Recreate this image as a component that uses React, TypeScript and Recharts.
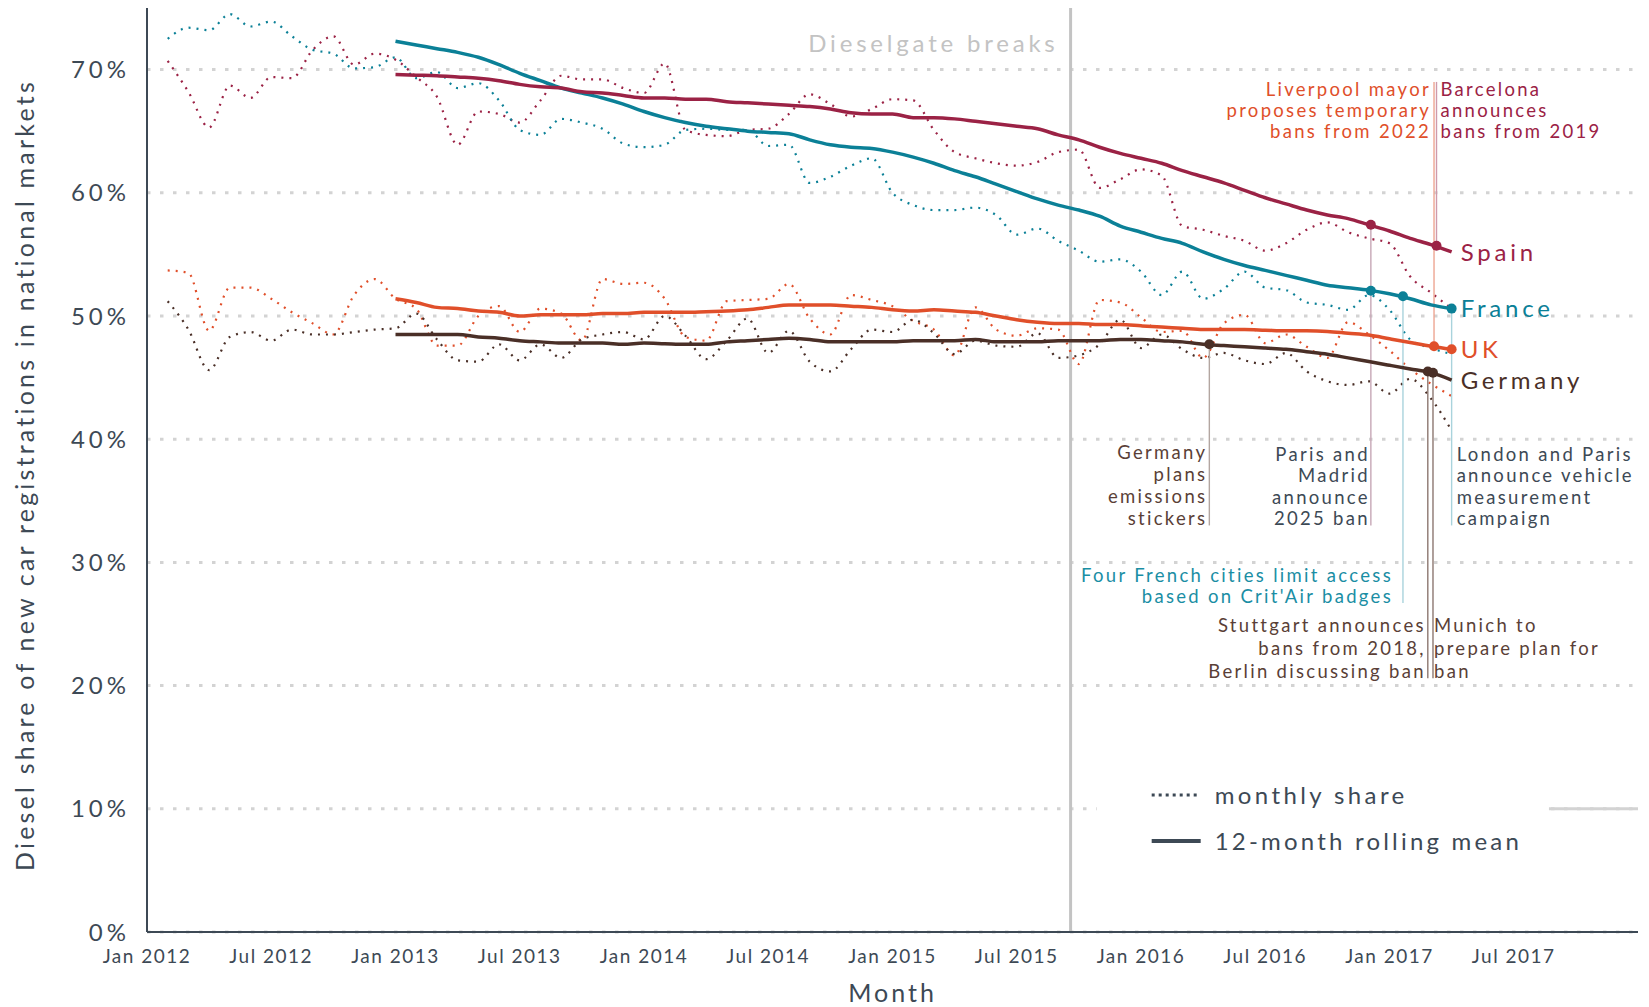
import React from "react";
import {
  ComposedChart,
  Line,
  XAxis,
  YAxis,
  CartesianGrid,
  ReferenceLine,
  ReferenceDot,
  ReferenceArea,
  LabelList,
} from "recharts";

/* ─── colours ─── */
const SPAIN = "#9b2245";
const FRANCE = "#0b8097";
const UK = "#e04f2a";
const GERMANY = "#4a2f27";
const SLATE = "#3d4955";
const BROWN_TEXT = "#5a3f37";
const GRID = "#d3d3d3";
const DIESELGATE = "#c3c3c3";

/* ─── axes ─── */
const tickMonths = [0, 6, 12, 18, 24, 30, 36, 42, 48, 54, 60, 66];
const tickLabels = [
  "Jan 2012", "Jul 2012", "Jan 2013", "Jul 2013", "Jan 2014", "Jul 2014",
  "Jan 2015", "Jul 2015", "Jan 2016", "Jul 2016", "Jan 2017", "Jul 2017",
];
const yTicks = [0, 10, 20, 30, 40, 50, 60, 70];

/* ─── monthly share, Feb 2012 (m1) .. Apr 2017 (m63) ─── */
const spainMonthly = [
  70.7, 68.2, 65.3, 68.7, 67.7, 69.4, 69.3, 71.6, 72.7, 70.4,
  71.3, 70.8, 69.4, 67.8, 63.9, 66.6, 66.4, 65.7, 67.5, 69.5,
  69.2, 69.2, 68.5, 68.1, 70.5, 65.1, 64.7, 64.6, 65.1, 65.2,
  66.4, 68.0, 67.2, 66.2, 66.8, 67.6, 67.5, 65.1, 63.3, 62.8,
  62.4, 62.2, 62.5, 63.3, 63.5, 60.4, 61.1, 61.9, 61.4, 57.3,
  57.0, 56.5, 56.1, 55.3, 55.9, 57.0, 57.6, 56.8, 56.3, 55.9,
  53.2, 51.9, 50.6,
];
const franceMonthly = [
  72.5, 73.4, 73.2, 74.5, 73.5, 73.9, 72.7, 71.6, 71.3, 70.1,
  70.2, 71.0, 69.3, 69.8, 68.5, 68.9, 67.5, 65.1, 64.7, 66.0,
  65.7, 65.2, 64.0, 63.7, 63.9, 65.1, 65.2, 65.1, 65.1, 63.8,
  63.9, 60.8, 61.3, 62.2, 62.8, 60.0, 59.0, 58.6, 58.6, 58.8,
  58.2, 56.6, 57.1, 56.1, 55.3, 54.4, 54.6, 53.6, 51.7, 53.6,
  51.4, 52.2, 53.6, 52.3, 52.1, 51.1, 50.9, 50.5, 51.7, 50.5,
  48.1, 47.4, 46.9,
];
const ukMonthly = [
  53.7, 53.5, 48.8, 52.3, 52.3, 51.4, 50.3, 49.4, 48.5, 51.7,
  53.0, 51.4, 50.6, 47.6, 47.6, 50.0, 50.8, 48.7, 50.6, 50.2,
  48.0, 53.0, 52.6, 52.7, 51.4, 48.3, 48.0, 51.2, 51.3, 51.4,
  52.6, 49.8, 48.5, 51.7, 51.3, 50.8, 49.6, 48.9, 46.8, 50.7,
  48.9, 48.4, 49.0, 48.9, 46.1, 51.3, 51.1, 49.9, 48.7, 48.8,
  46.6, 49.4, 50.1, 47.8, 48.5, 47.5, 46.6, 49.5, 48.5, 47.2,
  45.7, 44.5, 43.5,
];
const germanyMonthly = [
  51.2, 48.9, 45.6, 48.3, 48.7, 48.0, 48.9, 48.5, 48.5, 48.7,
  48.9, 49.0, 50.2, 48.1, 46.4, 46.3, 47.7, 46.4, 47.7, 46.6,
  48.1, 48.5, 48.7, 48.1, 50.0, 48.4, 46.5, 48.0, 49.8, 47.0,
  48.8, 46.3, 45.5, 47.3, 48.9, 48.7, 49.7, 48.6, 46.9, 48.0,
  47.6, 47.5, 48.6, 46.6, 46.8, 47.7, 49.7, 47.4, 48.5, 47.3,
  46.6, 47.0, 46.4, 46.1, 47.0, 45.5, 44.7, 44.4, 44.7, 43.7,
  44.9, 43.3, 40.7,
];

/* ─── 12-month rolling mean, m12 .. m63 ─── */
const spainRolling = [
  69.6, 69.55, 69.5, 69.4, 69.3, 69.1, 68.8, 68.6, 68.5, 68.2,
  68.1, 67.9, 67.7, 67.7, 67.6, 67.6, 67.4, 67.3, 67.2, 67.1,
  67.0, 66.8, 66.5, 66.4, 66.4, 66.1, 66.1, 66.0, 65.8, 65.6,
  65.4, 65.2, 64.7, 64.3, 63.7, 63.2, 62.8, 62.4, 61.8, 61.3,
  60.8, 60.2, 59.6, 59.1, 58.6, 58.2, 57.9, 57.4, 56.9, 56.3,
  55.8, 55.2,
];
const franceRolling = [
  72.3, 72.0, 71.7, 71.4, 71.0, 70.4, 69.7, 69.1, 68.5, 68.1,
  67.7, 67.2, 66.6, 66.1, 65.7, 65.4, 65.2, 65.0, 64.9, 64.8,
  64.3, 63.9, 63.7, 63.6, 63.3, 62.9, 62.4, 61.8, 61.3, 60.7,
  60.1, 59.5, 59.0, 58.6, 58.1, 57.3, 56.8, 56.3, 55.9, 55.2,
  54.6, 54.1, 53.7, 53.3, 52.9, 52.5, 52.3, 52.1, 51.8, 51.4,
  50.9, 50.6,
];
const ukRolling = [
  51.4, 51.1, 50.7, 50.6, 50.4, 50.3, 50.0, 50.1, 50.1, 50.1,
  50.2, 50.2, 50.3, 50.3, 50.3, 50.35, 50.4, 50.5, 50.7, 50.9,
  50.9, 50.9, 50.8, 50.7, 50.5, 50.4, 50.5, 50.4, 50.3, 50.0,
  49.7, 49.5, 49.4, 49.4, 49.3, 49.3, 49.2, 49.1, 49.0, 48.9,
  48.9, 48.9, 48.85, 48.8, 48.8, 48.75, 48.6, 48.45, 48.15, 47.85,
  47.55, 47.3,
];
const germanyRolling = [
  48.5, 48.5, 48.5, 48.5, 48.3, 48.2, 48.0, 47.9, 47.8, 47.8,
  47.8, 47.7, 47.8, 47.75, 47.7, 47.7, 47.9, 48.0, 48.1, 48.2,
  48.1, 47.9, 47.9, 47.9, 47.9, 48.0, 48.0, 48.0, 48.1, 47.9,
  47.9, 47.9, 48.0, 48.0, 48.0, 48.1, 48.1, 48.0, 47.9, 47.7,
  47.6, 47.5, 47.4, 47.3, 47.1, 46.9, 46.6, 46.3, 46.0, 45.7,
  45.4, 44.8,
];

/* ─── event markers on the rolling means ─── */
const markers = [
  { x: 51.3, y: 47.7, color: GERMANY },
  { x: 59.1, y: 57.4, color: SPAIN },
  { x: 59.1, y: 52.05, color: FRANCE },
  { x: 60.65, y: 51.6, color: FRANCE },
  { x: 61.85, y: 45.5, color: GERMANY },
  { x: 62.1, y: 45.4, color: GERMANY },
  { x: 62.15, y: 47.55, color: UK },
  { x: 62.27, y: 55.7, color: SPAIN },
  { x: 63, y: 50.6, color: FRANCE },
  { x: 63, y: 47.3, color: UK },
];

/* ─── event notes: leader line from marker to text ─── */
type Note = {
  x: number;
  from: number;
  to: number;
  side: "left" | "right";
  above?: boolean;
  gap: number;
  lh: number;
  color: string;
  stroke: string;
  lines: string[];
};
const notes: Note[] = [
  { x: 51.3, from: 47.7, to: 33.0, side: "left", gap: 4, lh: 22, color: BROWN_TEXT, stroke: "#b3a6a1",
    lines: ["Germany", "plans", "emissions", "stickers"] },
  { x: 59.1, from: 57.4, to: 33.0, side: "left", gap: 3, lh: 21.5, color: SLATE, stroke: "#c6a7b6",
    lines: ["Paris and", "Madrid", "announce", "2025 ban"] },
  { x: 60.65, from: 51.6, to: 26.7, side: "left", gap: 12, lh: 21, color: "#1a8ea4", stroke: "#a9d3dc",
    lines: ["Four French cities limit access", "based on Crit'Air badges"] },
  { x: 61.85, from: 45.5, to: 20.6, side: "left", gap: 4, lh: 23, color: BROWN_TEXT, stroke: "#8c7770",
    lines: ["Stuttgart announces", "bans from 2018,", "Berlin discussing ban"] },
  { x: 62.1, from: 45.4, to: 20.6, side: "right", gap: 1, lh: 23, color: BROWN_TEXT, stroke: "#8c7770",
    lines: ["Munich to", "prepare plan for", "ban"] },
  { x: 62.15, from: 47.55, to: 69.0, side: "left", above: true, gap: 5, lh: 21, color: UK, stroke: "#eda592",
    lines: ["Liverpool mayor", "proposes temporary", "bans from 2022"] },
  { x: 62.27, from: 55.7, to: 69.0, side: "right", above: true, gap: 4, lh: 21, color: SPAIN, stroke: "#cf9aab",
    lines: ["Barcelona", "announces", "bans from 2019"] },
  { x: 63, from: 50.6, to: 33.0, side: "right", gap: 5, lh: 21.5, color: SLATE, stroke: "#a9d3dc",
    lines: ["London and Paris", "announce vehicle", "measurement", "campaign"] },
];

const data = spainMonthly.map((_, i) => {
  const m = i + 1;
  const r = m - 12;
  return {
    m,
    spainM: spainMonthly[i],
    franceM: franceMonthly[i],
    ukM: ukMonthly[i],
    germanyM: germanyMonthly[i],
    spainR: r >= 0 ? spainRolling[r] : null,
    franceR: r >= 0 ? franceRolling[r] : null,
    ukR: r >= 0 ? ukRolling[r] : null,
    germanyR: r >= 0 ? germanyRolling[r] : null,
  };
});
const lastIndex = data.length - 1;

const noteFont = { fontSize: 18.5, letterSpacing: 2.3 };

function noteShape(note: Note) {
  return (p: any) => {
    const top = Math.min(p.y1, p.y2);
    const bottom = Math.max(p.y1, p.y2);
    const n = note.lines.length;
    const firstBase = note.above ? top + 14 : bottom - (n - 1) * note.lh;
    const tx = note.side === "left" ? p.x1 - note.gap + 2 : p.x1 + note.gap;
    return (
      <g>
        <line x1={p.x1} y1={p.y1} x2={p.x2} y2={p.y2} stroke={note.stroke} strokeWidth={1.4} />
        {note.lines.map((t, i) => (
          <text
            key={i}
            x={tx}
            y={firstBase + i * note.lh}
            textAnchor={note.side === "left" ? "end" : "start"}
            fill={note.color}
            {...noteFont}
          >
            {t}
          </text>
        ))}
      </g>
    );
  };
}

function endLabel(name: string, color: string) {
  return (p: any) => {
    if (p.index !== lastIndex) return null;
    const x = p.viewBox?.x ?? p.x;
    const y = p.viewBox?.y ?? p.y;
    if (x == null || y == null) return null;
    return (
      <text x={x + 9} y={y} dy="0.36em" fill={color} fontSize={24} letterSpacing={3.8}>
        {name}
      </text>
    );
  };
}

export default function App() {
  return (
    <div
      style={{
        position: "absolute",
        left: 0,
        top: 0,
        width: 1649,
        height: 1007,
        background: "#fff",
        fontFamily: "Lato, 'Open Sans', sans-serif",
      }}
    >
      <ComposedChart
        width={1649}
        height={1007}
        data={data}
        margin={{ top: 8, right: 11, left: 0, bottom: 0 }}
      >
        <CartesianGrid
          vertical={false}
          syncWithTicks
          stroke={GRID}
          strokeWidth={3}
          strokeDasharray="3.5 9.5"
        />
        <XAxis
          type="number"
          dataKey="m"
          domain={[0, 72]}
          ticks={tickMonths}
          tickFormatter={(v: number) => tickLabels[tickMonths.indexOf(v)] ?? ""}
          height={75}
          tickLine={false}
          tickSize={0}
          tickMargin={18}
          axisLine={{ stroke: SLATE, strokeWidth: 2 }}
          tick={{ fill: SLATE, fontSize: 19, letterSpacing: 1.5 }}
          interval={0}
          label={(props: any) => {
            const vb = props.viewBox ?? { x: 147, y: 932, width: 1491, height: 75 };
            return (
              <text
                x={vb.x + vb.width / 2}
                y={vb.y + vb.height - 5}
                textAnchor="middle"
                fill={SLATE}
                fontSize={25}
                letterSpacing={3}
              >
                Month
              </text>
            );
          }}
        />
        <YAxis
          type="number"
          domain={[0, 75]}
          ticks={yTicks}
          interval={0}
          width={147}
          tickLine={false}
          tickSize={0}
          tickMargin={17}
          axisLine={{ stroke: SLATE, strokeWidth: 2 }}
          tick={{ fill: SLATE, fontSize: 24, letterSpacing: 4 }}
          tickFormatter={(v: number) => `${v}%`}
          label={(props: any) => {
            const vb = props.viewBox ?? { x: 0, y: 8, width: 147, height: 924 };
            const cx = vb.x + 24;
            const cy = vb.y + vb.height / 2 + 5;
            return (
              <text
                x={cx}
                y={cy}
                transform={`rotate(-90 ${cx} ${cy})`}
                textAnchor="middle"
                dominantBaseline="central"
                fill={SLATE}
                fontSize={25}
                letterSpacing={3.2}
              >
                Diesel share of new car registrations in national markets
              </text>
            );
          }}
        />

        {/* legend box hides the 10% grid line behind it */}
        <ReferenceArea
          x1={45.86}
          x2={67.7}
          y1={5.4}
          y2={12.75}
          shape={(p: any) => (
            <g>
              <rect x={p.x} y={p.y} width={p.width} height={p.height} fill="#fff" />
              <line x1={p.x + 55} y1={p.y + 20} x2={p.x + 104} y2={p.y + 20} stroke={SLATE} strokeWidth={3} strokeDasharray="3 4" />
              <text x={p.x + 118} y={p.y + 29} fill={SLATE} fontSize={24} letterSpacing={3.4}>
                monthly share
              </text>
              <line x1={p.x + 55} y1={p.y + 66} x2={p.x + 104} y2={p.y + 66} stroke={SLATE} strokeWidth={4} />
              <text x={p.x + 118} y={p.y + 75} fill={SLATE} fontSize={24} letterSpacing={3.2}>
                12-month rolling mean
              </text>
            </g>
          )}
        />
        <ReferenceLine
          segment={[{ x: 67.7, y: 10 }, { x: 72, y: 10 }]}
          stroke={GRID}
          strokeWidth={3}
        />

        {/* Dieselgate */}
        <ReferenceLine
          x={44.6}
          shape={(p: any) => (
            <g>
              <line x1={p.x1} y1={p.y1} x2={p.x2} y2={p.y2} stroke={DIESELGATE} strokeWidth={3} />
              <text
                x={p.x1 - 12}
                y={Math.min(p.y1, p.y2) + 44}
                textAnchor="end"
                fill={DIESELGATE}
                fontSize={24}
                letterSpacing={3.8}
              >
                Dieselgate breaks
              </text>
            </g>
          )}
        />

        {/* monthly share */}
        <Line type="monotone" dataKey="spainM" stroke={SPAIN} strokeWidth={2.2} strokeDasharray="2 6" dot={false} isAnimationActive={false} />
        <Line type="monotone" dataKey="franceM" stroke={FRANCE} strokeWidth={2.2} strokeDasharray="2 6" dot={false} isAnimationActive={false} />
        <Line type="monotone" dataKey="ukM" stroke={UK} strokeWidth={2.2} strokeDasharray="2 6" dot={false} isAnimationActive={false} />
        <Line type="monotone" dataKey="germanyM" stroke={GERMANY} strokeWidth={2.2} strokeDasharray="2 6" dot={false} isAnimationActive={false} />

        {/* event leader lines and notes */}
        {notes.map((n, i) => (
          <ReferenceLine
            key={`note-${i}`}
            segment={[{ x: n.x, y: n.from }, { x: n.x, y: n.to }]}
            stroke={n.stroke}
            shape={noteShape(n)}
          />
        ))}

        {/* 12-month rolling mean */}
        <Line type="monotone" dataKey="germanyR" stroke={GERMANY} strokeWidth={3.5} dot={false} isAnimationActive={false}>
          <LabelList dataKey="germanyR" content={endLabel("Germany", GERMANY)} />
        </Line>
        <Line type="monotone" dataKey="ukR" stroke={UK} strokeWidth={3.5} dot={false} isAnimationActive={false}>
          <LabelList dataKey="ukR" content={endLabel("UK", UK)} />
        </Line>
        <Line type="monotone" dataKey="franceR" stroke={FRANCE} strokeWidth={3.5} dot={false} isAnimationActive={false}>
          <LabelList dataKey="franceR" content={endLabel("France", FRANCE)} />
        </Line>
        <Line type="monotone" dataKey="spainR" stroke={SPAIN} strokeWidth={3.5} dot={false} isAnimationActive={false}>
          <LabelList dataKey="spainR" content={endLabel("Spain", SPAIN)} />
        </Line>

        {markers.map((d, i) => (
          <ReferenceDot key={`dot-${i}`} x={d.x} y={d.y} r={5} fill={d.color} stroke={d.color} strokeWidth={0} />
        ))}
      </ComposedChart>
    </div>
  );
}
